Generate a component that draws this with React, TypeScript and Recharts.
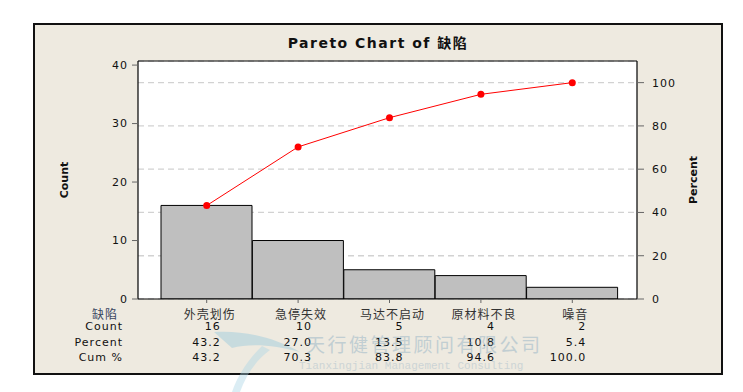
import React from 'react';
import {
  ComposedChart,
  Bar,
  Line,
  XAxis,
  YAxis,
  CartesianGrid,
  ReferenceLine,
} from 'recharts';

const categories = ['外壳划伤', '急停失效', '马达不启动', '原材料不良', '噪音'];
const counts = [16, 10, 5, 4, 2];
const percents = [43.2, 27.0, 13.5, 10.8, 5.4];
const cumPercents = [43.2, 70.3, 83.8, 94.6, 100.0];
const countTicks = [0, 10, 20, 30, 40];
const percentTicks = [0, 20, 40, 60, 80, 100];
const rowLabels = ['Count', 'Percent', 'Cum %'];

const TOTAL = counts.reduce((a, b) => a + b, 0);
const LEFT_MAX = 40.7;
const RIGHT_MAX = (LEFT_MAX * 100) / TOTAL;

const data = categories.map((name, i) => ({
  name,
  count: counts[i],
  cum: cumPercents[i],
}));

const FONT = '"DejaVu Sans", Verdana, sans-serif';
const CJK = '"Noto Sans CJK SC", "DejaVu Sans", sans-serif';

const tickStyle = {
  fontSize: 11,
  fill: '#111',
  fontFamily: FONT,
  letterSpacing: 1,
};

const CategoryTick = (props: any) => {
  const { x, y, payload, index } = props;
  const i = typeof index === 'number' ? index : categories.indexOf(payload.value);
  const numProps = {
    textAnchor: 'end' as const,
    fontSize: 11,
    fontFamily: FONT,
    letterSpacing: 1,
    fill: '#111',
  };
  return (
    <g>
      <text
        x={x + 3}
        y={y + 14}
        textAnchor="middle"
        fontSize={12}
        fontFamily={CJK}
        letterSpacing={1}
        fill="#333"
      >
        {payload.value}
      </text>
      <text x={x + 14} y={y + 25} {...numProps}>
        {counts[i]}
      </text>
      <text x={x + 14} y={y + 41} {...numProps}>
        {percents[i].toFixed(1)}
      </text>
      <text x={x + 14} y={y + 56} {...numProps}>
        {cumPercents[i].toFixed(1)}
      </text>
    </g>
  );
};

export default function App() {
  return (
    <div
      style={{
        position: 'absolute',
        left: 0,
        top: 0,
        width: 743,
        height: 392,
        background: '#fff',
        overflow: 'hidden',
      }}
    >
      <div
        style={{
          position: 'absolute',
          left: 33,
          top: 23,
          width: 690,
          height: 352,
          boxSizing: 'border-box',
          background: '#EEEAE0',
          border: '2px solid #111',
        }}
      />
      <div style={{ position: 'absolute', left: 0, top: 0 }}>
        <ComposedChart
          width={743}
          height={392}
          data={data}
          margin={{ top: 61, right: 46, bottom: 33, left: 78 }}
          barCategoryGap={0}
        >
          <CartesianGrid
            yAxisId="right"
            vertical={false}
            fill="#ffffff"
            fillOpacity={1}
            stroke="#d2d2d2"
            strokeWidth={1.3}
            strokeDasharray="6 4"
          />
          <XAxis
            dataKey="name"
            xAxisId={0}
            padding={{ left: 23, right: 19 }}
            interval={0}
            height={60}
            tickSize={4}
            tickMargin={2}
            tickLine={{ stroke: '#666' }}
            axisLine={{ stroke: '#000', strokeWidth: 1.2 }}
            tick={<CategoryTick />}
          />
          <YAxis
            yAxisId="left"
            orientation="left"
            width={60}
            domain={[0, LEFT_MAX]}
            allowDataOverflow
            ticks={countTicks}
            tickSize={6}
            tickMargin={4}
            tickLine={{ stroke: '#666' }}
            axisLine={{ stroke: '#000', strokeWidth: 1.2 }}
            tick={tickStyle}
          />
          <YAxis
            yAxisId="right"
            orientation="right"
            width={60}
            domain={[0, RIGHT_MAX]}
            allowDataOverflow
            ticks={percentTicks}
            tickSize={7}
            tickMargin={8}
            tickLine={{ stroke: '#666' }}
            axisLine={{ stroke: '#000', strokeWidth: 1.2 }}
            tick={{ ...tickStyle, textAnchor: 'start' }}
          />
          <ReferenceLine
            yAxisId="left"
            y={LEFT_MAX}
            stroke="#000"
            strokeWidth={1.2}
          />
          <Bar
            yAxisId="left"
            dataKey="count"
            fill="#bfbfbf"
            stroke="#000"
            strokeWidth={1}
            isAnimationActive={false}
          />
          <Line
            yAxisId="right"
            dataKey="cum"
            type="linear"
            stroke="#ff0000"
            strokeWidth={1}
            dot={{ r: 3.5, fill: '#ff0000', stroke: '#ff0000', strokeWidth: 0 }}
            activeDot={false}
            isAnimationActive={false}
          />
        </ComposedChart>
      </div>
      <svg
        width={743}
        height={392}
        style={{ position: 'absolute', left: 0, top: 0, pointerEvents: 'none' }}
      >
        <text
          x={378}
          y={48}
          textAnchor="middle"
          fontSize={14}
          fontWeight="bold"
          fontFamily={FONT}
          letterSpacing={1.5}
          fill="#111"
        >
          Pareto Chart of <tspan fontFamily={CJK}>缺陷</tspan>
        </text>
        <text
          transform="translate(68,180) rotate(-90)"
          textAnchor="middle"
          fontSize={11}
          fontWeight="bold"
          fontFamily={FONT}
          fill="#111"
        >
          Count
        </text>
        <text
          transform="translate(697,180) rotate(-90)"
          textAnchor="middle"
          fontSize={11}
          fontWeight="bold"
          fontFamily={FONT}
          fill="#111"
        >
          Percent
        </text>
        <text
          x={118}
          y={319}
          textAnchor="end"
          fontSize={12}
          fontFamily={CJK}
          letterSpacing={1}
          fill="#3a4560"
        >
          缺陷
        </text>
        {rowLabels.map((label, i) => (
          <text
            key={label}
            x={123}
            y={[330, 346, 361][i]}
            textAnchor="end"
            fontSize={11}
            fontFamily={FONT}
            letterSpacing={1}
            fill="#111"
          >
            {label}
          </text>
        ))}
        <g opacity={0.4}>
          <path
            d="M214,332 C245,330 275,338 300,352 C275,345 250,343 232,348 Z"
            fill="#8fc6dc"
          />
          <path
            d="M262,346 C248,360 238,375 232,392 L240,392 C246,375 256,360 270,350 Z"
            fill="#a8d4e6"
          />
          <text
            x={306}
            y={352}
            fontSize={19}
            fontFamily={CJK}
            letterSpacing={2.5}
            fill="#7fa6bf"
          >
            天行健管理顾问有限公司
          </text>
          <text
            x={299}
            y={369}
            fontSize={11}
            fontFamily='"Liberation Mono", "DejaVu Sans Mono", monospace'
            fill="#9ab4c6"
          >
            Tianxingjian Management Consulting
          </text>
        </g>
      </svg>
    </div>
  );
}
